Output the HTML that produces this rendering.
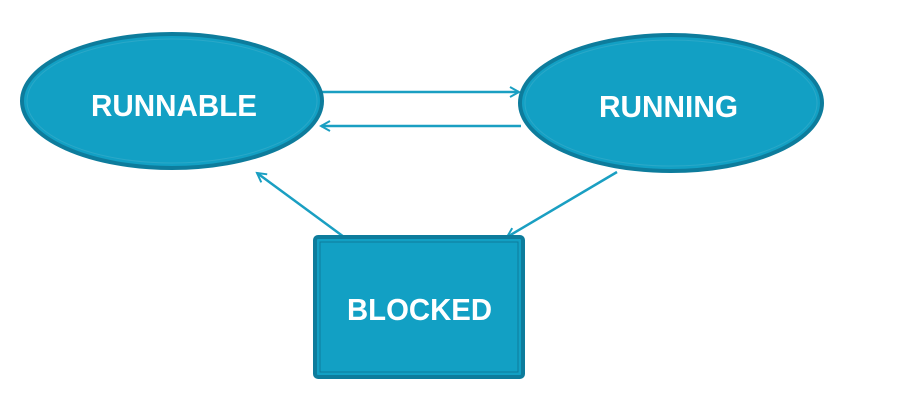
<!DOCTYPE html>
<html><head><style>
html,body{margin:0;padding:0;background:#fff;}
</style></head><body>
<svg width="911" height="401" xmlns="http://www.w3.org/2000/svg">
<defs>
<marker id="a" markerWidth="12" markerHeight="12" refX="10" refY="6" orient="auto" markerUnits="userSpaceOnUse">
<path d="M1,1 L10,6 L1,11" fill="none" stroke="#1a9fc2" stroke-width="2"/>
</marker>
</defs>
<g stroke="#1a9fc2" stroke-width="2.5" fill="none">
<line x1="322" y1="92" x2="519" y2="92" marker-end="url(#a)"/>
<line x1="521" y1="126" x2="321" y2="126" marker-end="url(#a)"/>
<line x1="344" y1="237" x2="257" y2="173" marker-end="url(#a)"/>
<line x1="617" y1="172" x2="507" y2="237" marker-end="url(#a)"/>
</g>
<ellipse cx="172" cy="101" rx="150" ry="67" fill="#12a0c4" stroke="#0d7c9c" stroke-width="4"/>
<ellipse cx="172" cy="101" rx="145" ry="62" fill="none" stroke="#2aa8c8" stroke-width="1"/>
<ellipse cx="671" cy="103" rx="151" ry="68" fill="#12a0c4" stroke="#0d7c9c" stroke-width="4"/>
<ellipse cx="671" cy="103" rx="146" ry="63" fill="none" stroke="#2aa8c8" stroke-width="1"/>
<rect x="315" y="237" width="208" height="140" rx="3" fill="#12a0c4" stroke="#0d7c9c" stroke-width="4"/>
<rect x="320" y="242" width="198" height="130" fill="none" stroke="#0d7c9c" stroke-width="1"/>
<g font-family="Liberation Sans, sans-serif" font-weight="bold" font-size="31" fill="#fff">
<text x="91" y="116" textLength="166" lengthAdjust="spacingAndGlyphs">RUNNABLE</text>
<text x="599" y="117" textLength="139" lengthAdjust="spacingAndGlyphs">RUNNING</text>
<text x="347" y="320" textLength="145" lengthAdjust="spacingAndGlyphs">BLOCKED</text>
</g>
</svg>
</body></html>
